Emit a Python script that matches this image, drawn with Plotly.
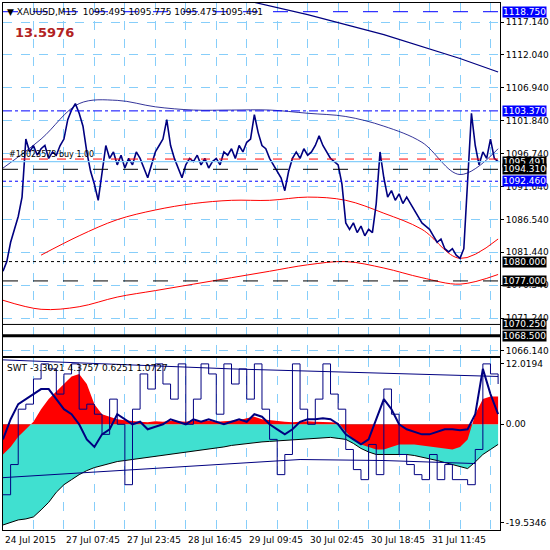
import plotly.graph_objects as go
from plotly.subplots import make_subplots

# hourly closes, hour 0..130
hours = list(range(131))
close = [1078.5, 1080, 1083, 1085, 1087, 1090, 1099, 1097, 1098, 1096.5,
         1097.5, 1098, 1096, 1097, 1096.5, 1098, 1099, 1102, 1103.5, 1104.5,
         1103, 1101, 1097, 1094, 1092, 1089.5, 1094, 1098, 1096, 1097,
         1095, 1096.5, 1094.5, 1096, 1095, 1097, 1096, 1094.5, 1093, 1095,
         1097, 1098, 1099, 1102, 1098, 1096, 1094.5, 1093, 1095, 1096,
         1095.5, 1096.5, 1095, 1096, 1094.5, 1095.5, 1096, 1095, 1097, 1096.5,
         1097.5, 1096, 1098, 1097, 1098.5, 1099, 1102.8, 1100, 1098, 1097.5,
         1096, 1095, 1094, 1093, 1091, 1094, 1096, 1097, 1096, 1097.5,
         1096.5, 1097, 1098, 1099.5, 1098, 1097, 1096, 1095.5, 1095, 1092,
         1086, 1085, 1086, 1084.5, 1085.5, 1084, 1085, 1084.5, 1089, 1097,
         1093, 1090, 1091, 1089.5, 1090.5, 1089, 1090, 1089, 1088, 1087,
         1086, 1085.5, 1085, 1084, 1083, 1083.5, 1082, 1081.5, 1082, 1081,
         1080.5, 1082, 1092, 1103, 1098, 1095, 1097, 1096, 1099, 1096, 1095.5]

# moving-average style curves, every 10 hours
ma_x = [0, 10, 20, 30, 40, 50, 60, 70, 80, 90, 100, 110, 120, 130]
ma_blue = [1094.5, 1099, 1104.5, 1105, 1104, 1103.5, 1103.5, 1103.5, 1103, 1102.5, 1101, 1098.5, 1093.5, 1097.5]
ma_red_hi = [None, 1081, 1084, 1086.5, 1088, 1089, 1089.5, 1089.5, 1090, 1089.5, 1087.5, 1085, 1080.5, 1083.5]
ma_red_lo = [1074, 1072.6, 1073, 1074.5, 1075.5, 1076.5, 1077.5, 1078.5, 1079.5, 1080, 1079, 1077.5, 1076.5, 1078]
long_x = [66, 80, 100, 120, 130]
long_ma = [1120.2, 1118.3, 1115.2, 1111.5, 1109.4]

levels = [1118.75, 1103.37, 1095.9, 1095.491, 1094.31, 1092.46, 1080.0, 1077.0, 1070.25, 1068.5]

# SWT indicator, every 2 hours
ix = list(range(0, 131, 2))
swt_red = [-6, -4.5, -2.5, -1, 0.5, 3, 5, 6.5, 8, 9.5, 10, 8, 4, 2, 1.5, 1,
           0.8, 0.6, 0.5, 0.4, 0.6, 0.5, 0.7, 0.6, 0.5, 0.8, 0.6, 0.7, 0.5, 0.6, 0.7, 0.8,
           1.2, 1.5, 1.0, 0.8, 0.6, 0.5, 0.4, 0.5, 0.6, 0.5, 0.5, 0.4, 0.3, -1.5,
           -3, -4, -4.5, -5, -5, -4.5, -4, -4, -4, -4.2, -4.4, -4.6, -4.8, -5, -4.5,
           -3, 2, 5, 5.5, 5.5]
swt_low = [-20, -19.5, -19, -18.8, -18.4, -17, -15.5, -13.5, -12, -11, -10, -9.2, -8.6, -8.2, -7.8, -7.4,
           -7.2, -7, -6.8, -6.6, -6.4, -6.2, -6, -5.8, -5.6, -5.4, -5.2, -5, -4.8, -4.5, -4.2, -4,
           -3.8, -3.6, -3.5, -3.4, -3.3, -3.2, -3.1, -3, -2.9, -2.8, -2.7, -2.6, -2.8, -3,
           -3.8, -4.8, -5.5, -6, -6, -6, -6, -6, -6.2, -6.5, -6.8, -7.2, -7.6, -8, -8.5,
           -8.8, -7.5, -6, -5, -4]
swt_thick = [-3, 1, 4, 5, 6, 7, 7, 5, 3, 2, 0, -3, -4.5, -2, -1, 2,
             1, 0, 0.5, -1, -0.5, 0, 1, 0.5, 0, 1, 0.5, 1, 0.5, 0, 0.5, 1,
             0.5, 2, 1.5, 0, -1, -2, -1, 0.5, 1, 1, 1.2, 1, 0, -2,
             -3, -4, -3, 1, 5, 3, 0, -1, -1.5, -2, -2, -1.5, -1, -1, -1.2,
             -1, 2, 11, 6, 2]
swt_thin = [-14, -8, 3, 4, 9, 12, 11, 6, 10, 12, 3, 4, 2, -2, 5, 0,
            -12, 3, 10, 7, 12, 8, 5, 12, 0, 5, 12, 10, 2, 12, 8, 11,
            5, 12, 3, -3, -10, -6, 12, 3, 0, 5, 12, 6, 3, -5,
            -9, -11, -4, -10, 7, 2, -6, -8, -10, -11, -6, -11, -8, -11, -11,
            -12, -5, 12, 10, 8]
blue_line_x = [0, 78, 100, 124]
blue_line = [-10.6, -7.0, -7.2, -7.8]
top_line_x = [0, 60, 130]
top_line = [12.8, 11, 9.5]

tick_pos = [0, 16, 32, 48, 64, 80, 96, 112]
tick_text = ['24 Jul 2015', '27 Jul 07:45', '27 Jul 23:45', '28 Jul 16:45',
             '29 Jul 09:45', '30 Jul 02:45', '30 Jul 18:45', '31 Jul 11:45']
grid_x = list(range(0, 131, 8))

navy = '#000080'
fnt = 'DejaVu Sans'
fig = make_subplots(rows=2, cols=1, shared_xaxes=True, row_heights=[0.672, 0.328],
                    vertical_spacing=0.004)

fig.add_trace(go.Scatter(x=long_x, y=long_ma, mode='lines', line=dict(color=navy, width=1.2)), 1, 1)
fig.add_trace(go.Scatter(x=ma_x, y=ma_blue, mode='lines', line=dict(color=navy, width=0.8, shape='spline')), 1, 1)
fig.add_trace(go.Scatter(x=ma_x, y=ma_red_hi, mode='lines', line=dict(color='red', width=1, shape='spline')), 1, 1)
fig.add_trace(go.Scatter(x=ma_x, y=ma_red_lo, mode='lines', line=dict(color='red', width=1, shape='spline')), 1, 1)
fig.add_trace(go.Scatter(x=hours, y=close, mode='lines', line=dict(color=navy, width=1.6)), 1, 1)

styles = [('#0000FF', 'longdash', 1), ('#0000FF', 'dashdot', 1), ('red', 'dash', 1),
          ('#87CEFA', 'solid', 1.2), ('black', 'longdash', 1), ('#0000FF', 'dot', 1),
          ('black', 'dot', 1), ('black', 'longdash', 1), ('black', 'solid', 1),
          ('black', 'solid', 3)]
for lv, (c, d, w) in zip(levels, styles):
    fig.add_hline(y=lv, line=dict(color=c, dash=d, width=w), row=1, col=1)

boxed = [(1118.75, '1118.750', '#0000FF'), (1103.37, '1103.370', '#0000FF'),
         (1095.491, '1095.491', 'black'), (1094.31, '1094.310', 'black'),
         (1092.46, '1092.460', '#0000FF'), (1080.0, '1080.000', 'black'),
         (1077.0, '1077.000', 'black'), (1070.25, '1070.250', 'black'),
         (1068.5, '1068.500', 'black')]
for v, t, c in boxed:
    fig.add_annotation(x=1.0, xref='paper', y=v, yref='y', text=t, showarrow=False,
                       xanchor='left', xshift=2, bgcolor=c,
                       font=dict(color='white', size=9, family=fnt), borderpad=0)

fig.add_trace(go.Scatter(x=ix, y=swt_low, mode='lines', fill='tozeroy', fillcolor='#40E0D0',
                         line=dict(color='black', width=1)), 2, 1)
fig.add_trace(go.Scatter(x=ix, y=swt_red, mode='lines', fill='tozeroy', fillcolor='red',
                         line=dict(color='red', width=0)), 2, 1)
fig.add_trace(go.Scatter(x=ix, y=swt_thin, mode='lines', line=dict(color=navy, width=1, shape='hv')), 2, 1)
fig.add_trace(go.Scatter(x=ix, y=swt_thick, mode='lines', line=dict(color=navy, width=2)), 2, 1)
fig.add_trace(go.Scatter(x=blue_line_x, y=blue_line, mode='lines', line=dict(color=navy, width=1)), 2, 1)
fig.add_trace(go.Scatter(x=top_line_x, y=top_line, mode='lines', line=dict(color=navy, width=1)), 2, 1)

for t, lab in zip(tick_pos, tick_text):
    fig.add_annotation(x=t, xref='x2', y=-0.005, yref='paper', yanchor='top', xanchor='left',
                       text=lab, showarrow=False, font=dict(size=9, color='black', family=fnt))

fig.add_annotation(x=0.005, xref='paper', y=1118.75, yref='y', text='▼ XAUUSD,M15  1095.495 1095.775 1095.475 1095.491',
                   showarrow=False, xanchor='left', font=dict(size=9, color='black', family=fnt))
fig.add_annotation(x=0.02, xref='paper', y=1115.6, yref='y', text='<b>13.5976</b>',
                   showarrow=False, xanchor='left', font=dict(size=13, color='#B22222', family=fnt))
fig.add_annotation(x=1, xref='x', y=1096.6, yref='y', text='#18023573 buy 1.00',
                   showarrow=False, xanchor='left', font=dict(size=8, color='black', family=fnt))
fig.add_annotation(x=0.005, xref='paper', y=11.2, yref='y2', text='SWT -3.3021 4.3757 0.6251 1.0727',
                   showarrow=False, xanchor='left', font=dict(size=9, color='black', family=fnt))

axis_common = dict(showline=True, linecolor='black', mirror=True, gridcolor='#87CEFA',
                   griddash='dash', zeroline=False, automargin=False)
fig.update_xaxes(range=[0, 130.5], tickvals=grid_x, showticklabels=False, ticks='', **axis_common)
fig.update_yaxes(side='right', ticks='outside', ticklen=3, tickcolor='black',
                 tickfont=dict(size=9, color='black', family=fnt), **axis_common)
fig.update_yaxes(range=[1065.4, 1120.1], tickvals=[1066.14, 1071.24, 1076.34, 1081.44, 1086.54,
                 1091.64, 1096.74, 1101.84, 1106.94, 1112.04, 1117.14],
                 ticktext=['1066.140', '1071.240', '1076.340', '1081.440', '1086.540', '1091.640',
                           '1096.740', '1101.840', '1106.940', '1112.040', '1117.140'], row=1, col=1)
fig.update_yaxes(range=[-21, 13.2], tickvals=[-19.5346, 0, 12.0194], showgrid=False,
                 ticktext=['-19.5346', '0.00', '12.0194'], row=2, col=1)

fig.update_layout(width=550, height=550, showlegend=False, plot_bgcolor='white',
                  paper_bgcolor='white', margin=dict(l=3, r=50, t=3, b=20),
                  font=dict(family=fnt))
fig.write_html("out.html", config={'displayModeBar': False})

# drop the browser's default page margin so the chart sits at the window's edge
with open("out.html") as f:
    page = f.read()
page = page.replace("<head>", "<head><style>body{margin:0;overflow:hidden}</style>", 1)
with open("out.html", "w") as f:
    f.write(page)
